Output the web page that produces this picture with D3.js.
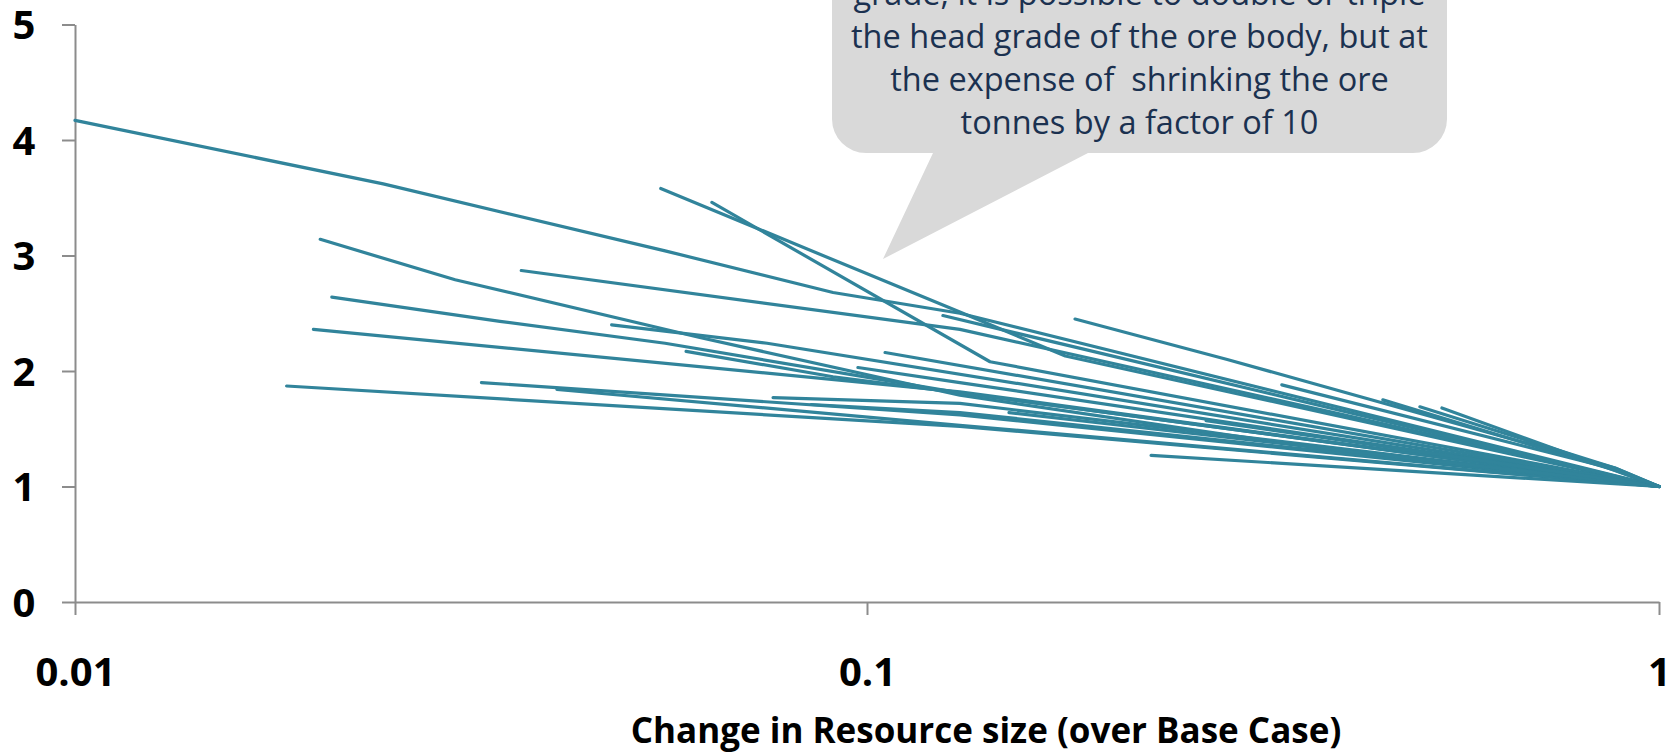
<!DOCTYPE html>
<html>
<head>
<meta charset="utf-8">
<script src="https://cdnjs.cloudflare.com/ajax/libs/d3/7.8.5/d3.min.js"></script>
<style>
  html, body { margin: 0; padding: 0; background: #ffffff; overflow: hidden; }
  svg { display: block; }
</style>
</head>
<body>
<svg id="chart" width="1668" height="753"></svg>
<script>
// ---- Data (x = change in resource size, y = change in grade), each series ends at base case (1,1)
const s01 = [[0.01,4.17],[0.0245,3.62],[0.0556,3.04],[0.0906,2.68],[0.131,2.50],[1,1]];
const s02 = [[0.0549,3.58],[0.131,2.51],[0.178,2.13],[1,1]];
const s03 = [[0.0637,3.46],[0.143,2.08],[1,1]];
const s04 = [[0.0204,3.14],[0.0302,2.79],[0.0615,2.29],[0.131,1.79],[0.40,1.30],[1,1]];
const s05 = [[0.0366,2.87],[0.131,2.36],[0.40,1.62],[1,1]];
const s06 = [[0.0211,2.64],[0.0344,2.43],[0.0556,2.24],[0.131,1.81],[1,1]];
const s07 = [[0.0200,2.36],[0.131,1.82],[1,1]];
const s08 = [[0.0185,1.87],[0.131,1.52],[1,1]];
const s09 = [[0.0326,1.90],[0.131,1.62],[1,1]];
const s10 = [[0.0476,2.40],[0.0748,2.24],[1,1]];
const s11 = [[0.0591,2.17],[0.0906,1.95],[0.131,1.81],[1,1]];
const s12 = [[0.0406,1.84],[0.131,1.53],[1,1]];
const s13 = [[0.0761,1.77],[0.131,1.72],[1,1]];
const s14 = [[0.085,1.71],[0.131,1.64],[1,1]];
const s15 = [[0.1054,2.16],[1,1]];
const s16 = [[0.1247,2.48],[1,1]];
const s17 = [[0.1831,2.45],[0.285,2.10],[0.88,1.16],[1,1]];
const s18 = [[0.0974,2.03],[0.131,1.90],[1,1]];
const s19 = [[0.1511,1.64],[1,1]];
const s20 = [[0.2284,1.27],[1,1]];
const s21 = [[0.268,1.57],[1,1]];
const s22 = [[0.448,1.75],[0.88,1.14],[1,1]];
const s23 = [[0.499,1.69],[0.88,1.16],[1,1]];
const s24 = [[0.532,1.68],[1,1]];
const s25 = [[0.334,1.88],[0.88,1.15],[1,1]];
const seriesList = [s01,s02,s03,s04,s05,s06,s07,s08,s09,s10,s11,s12,s13,s14,s15,s16,s17,s18,s19,s20,s21,s22,s23,s24,s25];

const xTicks = [0.01, 0.1, 1];
const xTickLabels = ["0.01", "0.1", "1"];
const yTicks = [0, 1, 2, 3, 4, 5];
const xTitle = "Change in Resource size (over Base Case)";
const calloutLines = [
  "grade, it is possible to double or triple",
  "the head grade of the ore body, but at",
  "the expense of  shrinking the ore",
  "tonnes by a factor of 10"
];

(function () {
// ---- Layout
const svg = d3.select("#chart");
const plotL = 75, plotR = 1659, plotT = 24.5, plotB = 602;
const x = d3.scaleLog().domain([0.01, 1]).range([plotL, plotR]);
const y = d3.scaleLinear().domain([0, 5]).range([plotB, plotT]);
const lineColor = "#31849b";
const axisColor = "#8c8c8c";
const fontFam = "'Open Sans', Lato, sans-serif";

// Callout (behind lines)
const cx0 = 832, cx1 = 1447, cyTop = -80, cyBot = 153, r = 34;
const tailL = 933, tailR = 1088, tipX = 883, tipY = 259;
const p = d3.path();
p.moveTo(cx0 + r, cyTop);
p.lineTo(cx1 - r, cyTop);
p.arcTo(cx1, cyTop, cx1, cyTop + r, r);
p.lineTo(cx1, cyBot - r);
p.arcTo(cx1, cyBot, cx1 - r, cyBot, r);
p.lineTo(tailR, cyBot);
p.lineTo(tipX, tipY);
p.lineTo(tailL, cyBot);
p.lineTo(cx0 + r, cyBot);
p.arcTo(cx0, cyBot, cx0, cyBot - r, r);
p.lineTo(cx0, cyTop + r);
p.arcTo(cx0, cyTop, cx0 + r, cyTop, r);
p.closePath();
svg.append("path").attr("d", p.toString()).attr("fill", "#d9d9d9");

const cCenter = (cx0 + cx1) / 2;
svg.append("g").selectAll("text").data(calloutLines).join("text")
  .attr("x", cCenter)
  .attr("y", (d, i) => 133.5 - (calloutLines.length - 1 - i) * 43)
  .attr("text-anchor", "middle")
  .attr("font-family", fontFam)
  .attr("font-size", 32.5)
  .attr("fill", "#1b3150")
  .style("white-space", "pre")
  .text(d => d);

// Axes
const xAxis = d3.axisBottom(x).tickValues(xTicks).tickSize(13).tickSizeOuter(0).tickFormat((d, i) => xTickLabels[i]);
const yAxis = d3.axisLeft(y).tickValues(yTicks).tickSize(13).tickSizeOuter(0).tickFormat(d3.format("d"));

const gx = svg.append("g").attr("transform", `translate(0,${plotB})`).call(xAxis);
const gy = svg.append("g").attr("transform", `translate(${plotL},0)`).call(yAxis);
[gx, gy].forEach(g => {
  g.select(".domain").attr("stroke", axisColor).attr("stroke-width", 2);
  g.selectAll(".tick line").attr("stroke", axisColor).attr("stroke-width", 2);
  g.selectAll(".tick text").attr("font-family", fontFam).attr("font-weight", "bold")
    .attr("font-size", 40).attr("fill", "#000");
});
gx.selectAll(".tick text").attr("dy", null).attr("y", 84);
gy.selectAll(".tick text").attr("x", -51).attr("dy", "0.36em").attr("text-anchor", "middle");

// Lines
const line = d3.line().x(d => x(d[0])).y(d => y(d[1]));
svg.append("g").selectAll("path").data(seriesList).join("path")
  .attr("d", line)
  .attr("fill", "none")
  .attr("stroke", lineColor)
  .attr("stroke-width", 3.2)
  .attr("stroke-linecap", "round")
  .attr("stroke-linejoin", "round");

// Axis title
svg.append("text")
  .attr("x", 986).attr("y", 743)
  .attr("text-anchor", "middle")
  .attr("font-family", fontFam).attr("font-weight", "bold").attr("font-size", 35)
  .attr("fill", "#000")
  .text(xTitle);
})();
</script>
</body>
</html>
